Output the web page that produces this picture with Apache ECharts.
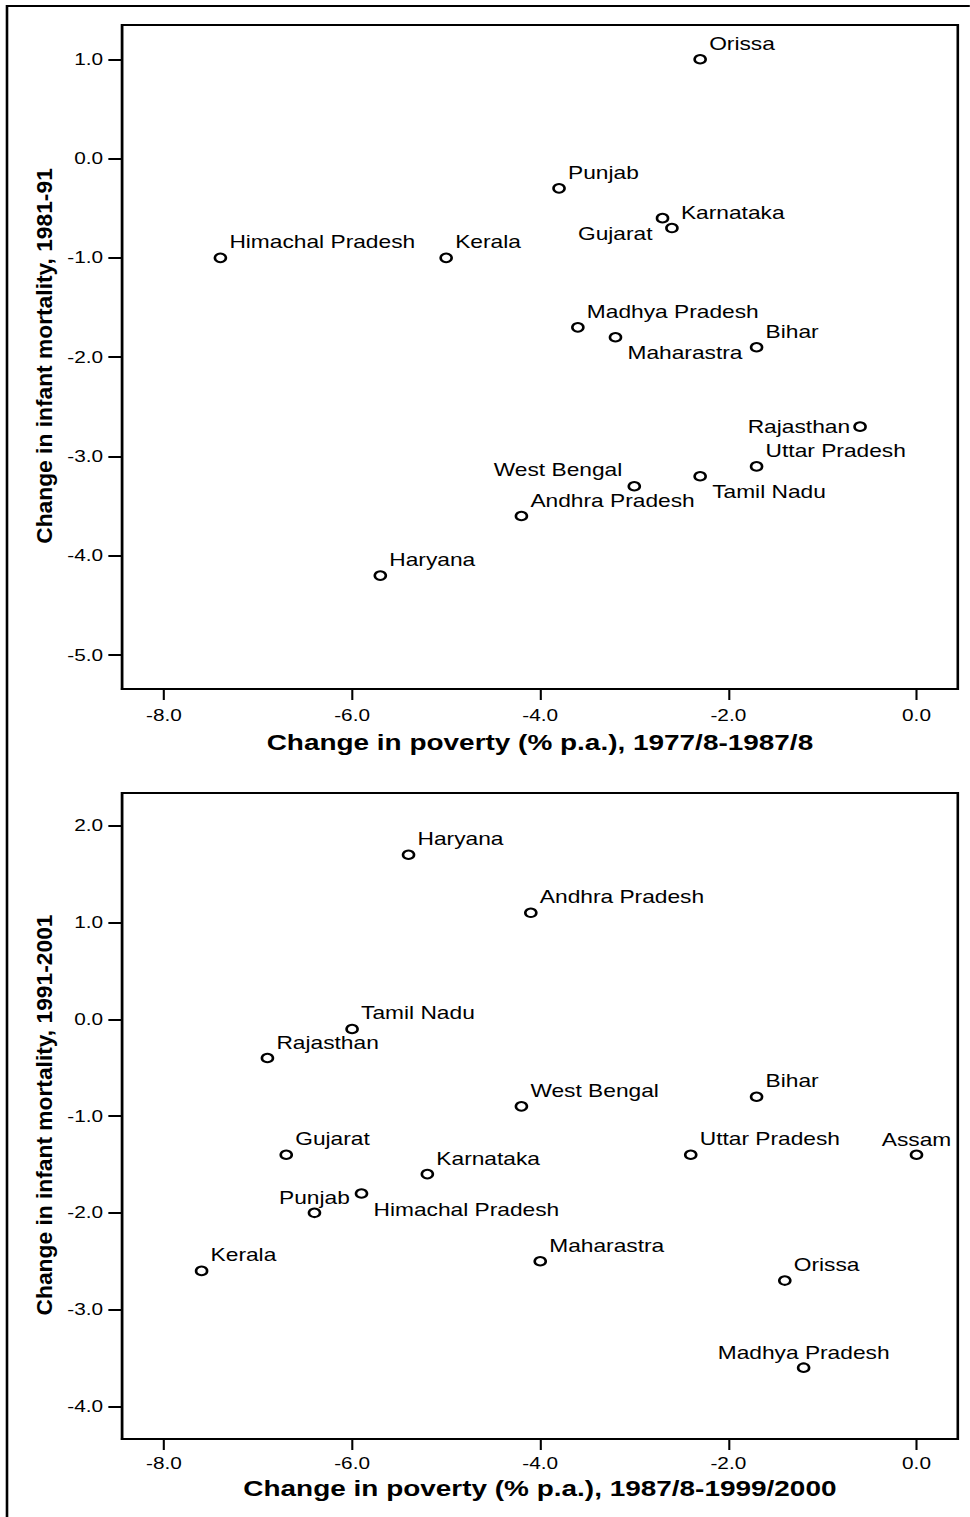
<!DOCTYPE html>
<html>
<head>
<meta charset="utf-8">
<title>Poverty and infant mortality, Indian states</title>
<script src="https://cdn.jsdelivr.net/npm/echarts@6/dist/echarts.min.js"></script>
<style>
  html, body { margin: 0; padding: 0; background: #fff; overflow: hidden; }
  /* the source picture is stretched sideways, so draw narrower and scale x back up */
  #chart { width: 746px; height: 1517px; transform: scaleX(1.3); transform-origin: 0 0; }
</style>
</head>
<body>
<div id="chart"></div>
<script>
// top panel: change in poverty 1977/8-1987/8 vs change in infant mortality 1981-91
const states1 = ['Orissa', 'Punjab', 'Gujarat', 'Karnataka', 'Himachal Pradesh', 'Kerala',
  'Madhya Pradesh', 'Maharastra', 'Bihar', 'Rajasthan', 'Uttar Pradesh', 'Tamil Nadu',
  'West Bengal', 'Andhra Pradesh', 'Haryana'];
const poverty1 = [-2.3, -3.8, -2.7, -2.6, -7.4, -5.0, -3.6, -3.2, -1.7, -0.6, -1.7, -2.3, -3.0, -4.2, -5.7];
const mortality1 = [1.0, -0.3, -0.6, -0.7, -1.0, -1.0, -1.7, -1.8, -1.9, -2.7, -3.1, -3.2, -3.3, -3.6, -4.2];

// bottom panel: change in poverty 1987/8-1999/2000 vs change in infant mortality 1991-2001
const states2 = ['Haryana', 'Andhra Pradesh', 'Tamil Nadu', 'Rajasthan', 'West Bengal', 'Bihar',
  'Gujarat', 'Uttar Pradesh', 'Assam', 'Karnataka', 'Himachal Pradesh', 'Punjab', 'Kerala',
  'Maharastra', 'Orissa', 'Madhya Pradesh'];
const poverty2 = [-5.4, -4.1, -6.0, -6.9, -4.2, -1.7, -6.7, -2.4, 0.0, -5.2, -5.9, -6.4, -7.6, -4.0, -1.4, -1.2];
const mortality2 = [1.7, 1.1, -0.1, -0.4, -0.9, -0.8, -1.4, -1.4, -1.4, -1.6, -1.8, -2.0, -2.6, -2.5, -2.7, -3.6];

const xTicks = [-8, -6, -4, -2, 0];
const yTicks1 = [-5, -4, -3, -2, -1, 0, 1];
const yTicks2 = [-4, -3, -2, -1, 0, 1, 2];

const S = 1.3; // horizontal stretch
const FONT = '"Liberation Sans", Arial, sans-serif';

// where each label sits next to its point (default: up and right)
const spots = {
  UR: { align: 'left', offset: [9 / S, -15.5] },
  LR: { align: 'left', offset: [12 / S, 16] },
  LL: { align: 'right', offset: [-10 / S, 16] },
  L: { align: 'right', offset: [-10 / S, 0] },
  UL: { align: 'right', offset: [-12 / S, -16] },
  T: { align: 'center', offset: [0, -15] }
};
const place1 = { 'Gujarat': 'LL', 'Maharastra': 'LR', 'Rajasthan': 'L', 'Tamil Nadu': 'LR', 'West Bengal': 'UL' };
const place2 = { 'Assam': 'T', 'Punjab': 'T', 'Madhya Pradesh': 'T', 'Himachal Pradesh': 'LR' };

function points(names, xs, ys, place) {
  return names.map((n, i) => ({
    name: n,
    value: [xs[i], ys[i]],
    label: spots[place[n] || 'UR']
  }));
}

function xAxis(idx, name, gap, labelMargin) {
  return {
    gridIndex: idx, type: 'value', min: -8.446, max: 0.439,
    axisLine: { show: true, onZero: false, lineStyle: { color: '#000', width: 2 } },
    axisTick: { show: true, inside: false, length: 11, customValues: xTicks, lineStyle: { color: '#000', width: 1.6 } },
    axisLabel: { customValues: xTicks, formatter: v => v.toFixed(1), margin: labelMargin,
      fontSize: 16, color: '#000', fontFamily: FONT },
    splitLine: { show: false },
    name: name, nameLocation: 'middle', nameGap: gap,
    nameTextStyle: { fontWeight: 'bold', fontSize: 21.5, color: '#000', fontFamily: FONT }
  };
}

function yAxis(idx, min, max, ticks) {
  return {
    gridIndex: idx, type: 'value', min: min, max: max,
    axisLine: { show: true, onZero: false, lineStyle: { color: '#000', width: 1.6 } },
    axisTick: { show: true, inside: false, length: 10.5, customValues: ticks, lineStyle: { color: '#000', width: 2 } },
    axisLabel: { customValues: ticks, formatter: v => v.toFixed(1), margin: 14.5,
      fontSize: 16, color: '#000', fontFamily: FONT },
    splitLine: { show: false }
  };
}

// y titles as rotated text, squeezed back so the sideways stretch does not fatten them
function yTitle(text, cy) {
  return {
    type: 'text', silent: true, x: 44 / S, y: cy,
    rotation: Math.PI / 2, scaleY: 1 / S,
    style: { text: text, fill: '#000', font: 'bold 22.8px ' + FONT, align: 'center', verticalAlign: 'middle' }
  };
}

function scatter(idx, data) {
  return {
    type: 'scatter', xAxisIndex: idx, yAxisIndex: idx,
    symbol: 'circle', symbolSize: 8.5,
    itemStyle: { color: '#fff', borderColor: '#000', borderWidth: 2, opacity: 1 },
    label: { show: true, position: 'inside', formatter: '{b}', verticalAlign: 'middle',
      fontSize: 17.5, color: '#000', fontFamily: FONT },
    emphasis: { disabled: true },
    data: data
  };
}

const chart = echarts.init(document.getElementById('chart'), null, { renderer: 'svg' });
chart.setOption({
  animation: false,
  backgroundColor: '#fff',
  graphic: [
    {
      type: 'rect', silent: true,
      shape: { x: 7 / S, y: 6, width: 1000, height: 2000 },
      style: { fill: 'none', stroke: '#000', lineWidth: 2 }
    },
    yTitle('Change in infant mortality, 1981-91', 356),
    yTitle('Change in infant mortality, 1991-2001', 1115)
  ],
  grid: [
    { left: 122 / S, right: 12 / S, top: 25, height: 664, show: true, borderColor: '#000', borderWidth: 2, backgroundColor: '#fff' },
    { left: 122 / S, right: 12 / S, top: 793, height: 646, show: true, borderColor: '#000', borderWidth: 2, backgroundColor: '#fff' }
  ],
  xAxis: [
    xAxis(0, 'Change in poverty (% p.a.), 1977/8-1987/8', 42, 18),
    xAxis(1, 'Change in poverty (% p.a.), 1987/8-1999/2000', 38, 16)
  ],
  yAxis: [
    yAxis(0, -5.342, 1.345, yTicks1),
    yAxis(1, -4.337, 2.338, yTicks2)
  ],
  series: [
    scatter(0, points(states1, poverty1, mortality1, place1)),
    scatter(1, points(states2, poverty2, mortality2, place2))
  ]
});
</script>
</body>
</html>
